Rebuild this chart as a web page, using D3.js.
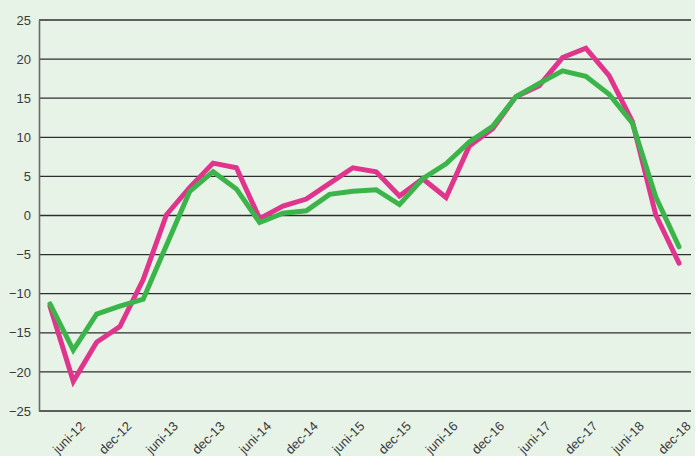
<!DOCTYPE html>
<html>
<head>
<meta charset="utf-8">
<script src="https://cdn.jsdelivr.net/npm/d3@7/dist/d3.min.js"></script>
<style>
  html, body { margin: 0; padding: 0; background: #e8f3e8; }
  svg { display: block; }
  text { font-family: "Liberation Sans", Arial, sans-serif; fill: #3a3a3a; }
</style>
</head>
<body>
<svg id="chart" width="695" height="456"></svg>
<script>
const quarters = ["mar-12","juni-12","sep-12","dec-12","mar-13","juni-13","sep-13","dec-13",
  "mar-14","juni-14","sep-14","dec-14","mar-15","juni-15","sep-15","dec-15",
  "mar-16","juni-16","sep-16","dec-16","mar-17","juni-17","sep-17","dec-17",
  "mar-18","juni-18","sep-18","dec-18"];
const tickLabels = ["juni-12","dec-12","juni-13","dec-13","juni-14","dec-14","juni-15","dec-15",
  "juni-16","dec-16","juni-17","dec-17","juni-18","dec-18"];
const pinkSeries = [-11.6, -21.2, -16.2, -14.2, -8.2, 0.1, 3.6, 6.7, 6.1, -0.4, 1.2, 2.1, 4.1, 6.1,
  5.6, 2.5, 4.7, 2.3, 8.9, 11.1, 15.2, 16.6, 20.2, 21.4, 17.9, 12.0, 0.1, -6.1];
const greenSeries = [-11.3, -17.2, -12.6, -11.6, -10.7, -3.8, 3.1, 5.6, 3.4, -0.9, 0.3, 0.6, 2.7, 3.1,
  3.3, 1.4, 4.7, 6.6, 9.4, 11.4, 15.2, 16.9, 18.5, 17.8, 15.5, 11.8, 2.4, -4.0];
const yTicks = [-25, -20, -15, -10, -5, 0, 5, 10, 15, 20, 25];

const svg = d3.select("#chart");
const mLeft = 39, mRight = 691, mTop = 20, mBottom = 411;

svg.append("rect").attr("width", 695).attr("height", 456).attr("fill", "#e8f3e8");

const x = d3.scalePoint().domain(quarters).range([50, 679]);
const y = d3.scaleLinear().domain([-25, 25]).range([mBottom, mTop]);

// gridlines
svg.append("g").selectAll("line").data(yTicks).join("line")
  .attr("x1", mLeft).attr("x2", mRight)
  .attr("y1", d => y(d)).attr("y2", d => y(d))
  .attr("stroke", "#2e2e2e").attr("stroke-width", 1.3);

// y axis
const yAxis = d3.axisLeft(y).tickValues(yTicks).tickSize(0).tickPadding(8);
const gy = svg.append("g").attr("transform", `translate(${mLeft},0)`).call(yAxis);
gy.select(".domain").attr("stroke", "#6a6a6a").attr("stroke-width", 1.6);
gy.selectAll("text").style("font-size", "13px").style("font-family", "Liberation Sans, Arial, sans-serif").attr("fill", "#3a3a3a");

// x axis labels
const xAxis = d3.axisBottom(x).tickValues(tickLabels).tickSize(0).tickFormat(d => d);
const gx = svg.append("g").attr("transform", `translate(0,${mBottom})`).call(xAxis);
gx.select(".domain").remove();
gx.selectAll("text")
  .style("font-size", "13px").style("font-family", "Liberation Sans, Arial, sans-serif")
  .attr("fill", "#3a3a3a")
  .attr("text-anchor", "end")
  .attr("y", 0).attr("dy", 0)
  .attr("transform", "translate(12,16) rotate(-45)");

const line = d3.line().x((d, i) => x(quarters[i])).y(d => y(d));

svg.append("path").datum(pinkSeries).attr("d", line)
  .attr("fill", "none").attr("stroke", "#e0358d").attr("stroke-width", 5)
  .attr("stroke-linejoin", "miter").attr("stroke-linecap", "round");
svg.append("path").datum(greenSeries).attr("d", line)
  .attr("fill", "none").attr("stroke", "#3bb54a").attr("stroke-width", 5)
  .attr("stroke-linejoin", "miter").attr("stroke-linecap", "round");
</script>
</body>
</html>
